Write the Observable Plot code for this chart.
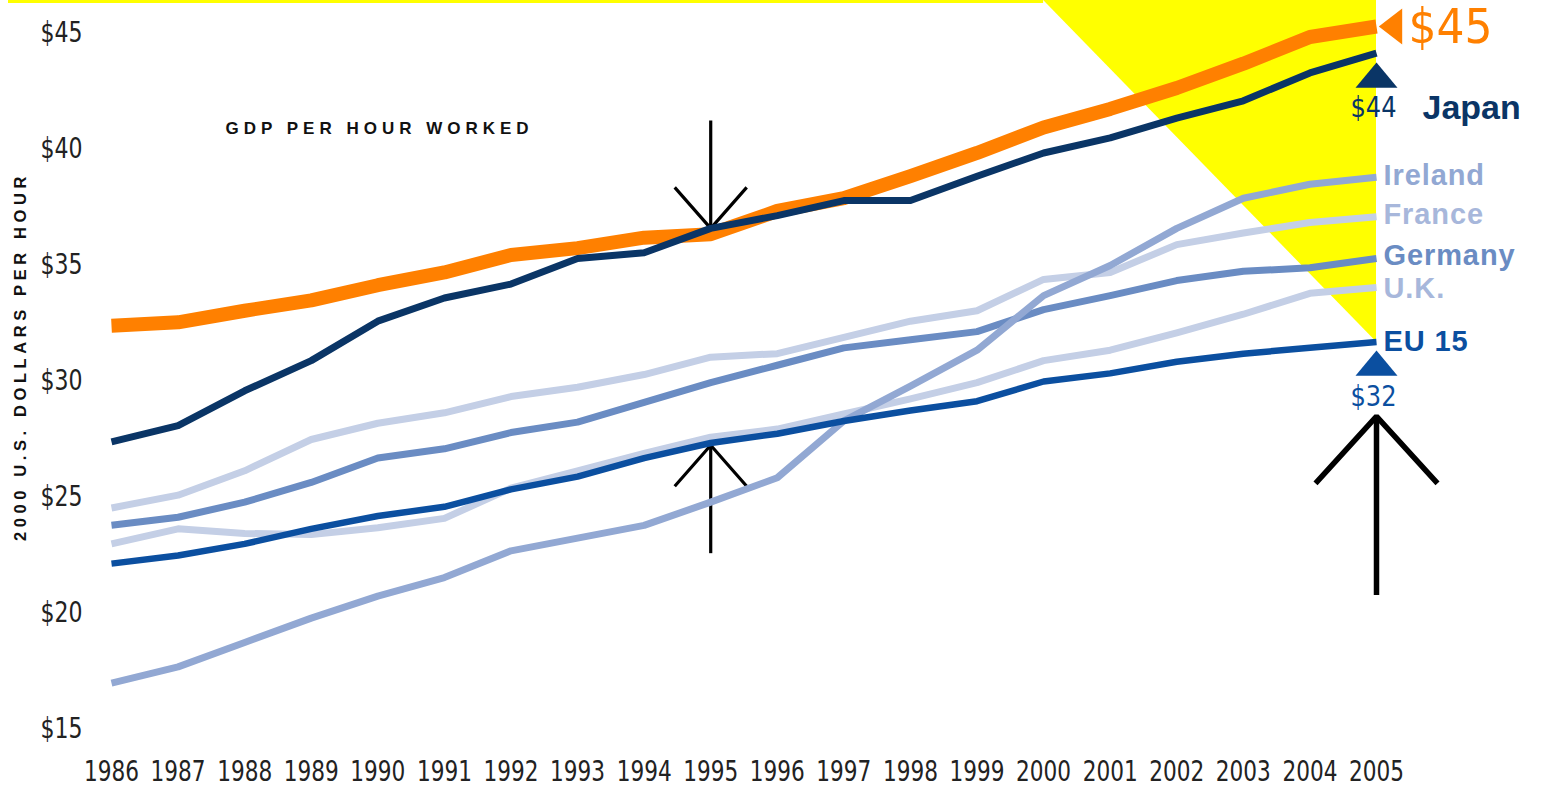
<!DOCTYPE html>
<html><head><meta charset="utf-8">
<script src="https://cdn.jsdelivr.net/npm/d3@7"></script>
<script src="https://cdn.jsdelivr.net/npm/@observablehq/plot@0.6"></script>
<style>
html,body{margin:0;padding:0;background:#fff;overflow:hidden}
#chart svg{display:block}
</style></head><body><div id="chart"></div>
<script>
// ---- data ----
const years = [1986,1987,1988,1989,1990,1991,1992,1993,1994,1995,1996,1997,1998,1999,2000,2001,2002,2003,2004,2005];
const yTicks = [15,20,25,30,35,40,45];
const us      = [32.4,32.55,33.05,33.5,34.15,34.7,35.45,35.75,36.2,36.35,37.35,37.9,38.85,39.85,40.95,41.75,42.65,43.7,44.85,45.3];
const japan   = [27.4,28.1,29.6,30.9,32.6,33.6,34.2,35.3,35.55,36.6,37.15,37.8,37.8,38.85,39.85,40.5,41.35,42.1,43.3,44.15];
const ireland = [17.0,17.7,18.75,19.8,20.75,21.55,22.7,23.25,23.8,24.8,25.85,28.3,29.8,31.35,33.7,35.0,36.6,37.9,38.5,38.8];
const france  = [24.55,25.1,26.15,27.5,28.2,28.65,29.35,29.75,30.3,31.05,31.2,31.9,32.6,33.05,34.4,34.7,35.9,36.4,36.85,37.1];
const germany = [23.8,24.15,24.8,25.65,26.7,27.1,27.8,28.25,29.1,29.95,30.7,31.45,31.8,32.15,33.1,33.7,34.35,34.75,34.9,35.3];
const uk      = [23.0,23.65,23.45,23.4,23.7,24.1,25.4,26.15,26.9,27.6,27.95,28.6,29.25,29.95,30.9,31.35,32.1,32.9,33.8,34.05];
const eu15    = [22.15,22.5,23.0,23.65,24.2,24.6,25.35,25.9,26.7,27.35,27.75,28.3,28.75,29.15,30.0,30.35,30.85,31.2,31.45,31.7];
const seriesNames = ["U.K.","France","Germany","Ireland","EU 15","U.S.","Japan"];
const seriesValues = [uk, france, germany, ireland, eu15, us, japan];
const titleText = "GDP PER HOUR WORKED";
const yLabelText = "2000 U.S. DOLLARS PER HOUR";

// ---- styles ----
const style = {
  "U.K.":    {stroke:"#c4cfe6", w:7,  label:"U.K.",    labelFill:"#a7b7db", ldy:1},
  "France":  {stroke:"#c4cfe6", w:7,  label:"France",  labelFill:"#a7b7db", ldy:-2},
  "Germany": {stroke:"#6a8cc3", w:7,  label:"Germany", labelFill:"#6a8cc3", ldy:-3},
  "Ireland": {stroke:"#92a8d3", w:7,  label:"Ireland", labelFill:"#92a8d3", ldy:-2},
  "EU 15":   {stroke:"#0b4fa0", w:6.5,label:"EU 15",   labelFill:"#0b4fa0", ldy:0},
  "U.S.":    {stroke:"#ff8000", w:14, label:null},
  "Japan":   {stroke:"#0a3566", w:7,  label:"Japan",   labelFill:"#0a3566"}
};
const W = 1548, H = 787, mL = 111, mR = 172, mT = 33, mB = 58;
const pxYear = (W - mL - mR) / (years.length - 1);
const pxDollar = (H - mT - mB) / (yTicks[yTicks.length-1] - yTicks[0]);
const narrow = "'DejaVu Sans Condensed','DejaVu Sans',sans-serif";
const bold = "'Liberation Sans',Arial,sans-serif";

const rows = seriesNames.flatMap((n, k) => years.map((y, i) => ({country:n, year:y, value:seriesValues[k][i]})));
const last = n => rows.filter(d => d.country === n).at(-1);

const yTop = yTicks[yTicks.length-1] + mT / pxDollar;  // top edge of the svg in data units
const x0 = years[0], x1 = years[years.length-1];
// yellow highlight: triangle from 2000 at the top to the EU 15 endpoint
const yellowTri = [
  {year:2000, lo:yTop, hi:yTop},
  {year:x1, lo:last("EU 15").value, hi:yTop}
];
const yellowStrip = [{x1:x0 - 103/pxYear, x2:2000, y1:yTop - 3/pxDollar, y2:yTop + 1}];

// arrows (annotations)
const arrows = [
  {year:1995, from:41.25, tip:japan[9], dir:-1, wx:36, wy:41, sw:3.2},
  {year:1995, from:22.6, tip:27.25, dir:1, wx:36, wy:41, sw:3.2},
  {year:2005, from:20.8, tip:28.5, dir:1, wx:61, wy:67, sw:5.5}
];
const arrowMarks = arrows.flatMap(a => {
  const wy = a.wy / pxDollar * a.dir, wx = a.wx / pxYear;
  const head = [
    {year:a.year - wx, v:a.tip - wy},
    {year:a.year, v:a.tip},
    {year:a.year + wx, v:a.tip - wy}
  ];
  const shaft = [{year:a.year, v:a.from}, {year:a.year, v:a.tip}];
  return [
    Plot.line(shaft, {x:"year", y:"v", stroke:"#000", strokeWidth:a.sw, strokeLinecap:"butt"}),
    Plot.line(head, {x:"year", y:"v", stroke:"#000", strokeWidth:a.sw, strokeLinecap:"butt", strokeLinejoin:"miter"})
  ];
});

// custom flat triangle symbols
const triUp = {draw(ctx, size){ const r = Math.sqrt(size/Math.PI); ctx.moveTo(0,-0.6*r); ctx.lineTo(r,0.6*r); ctx.lineTo(-r,0.6*r); ctx.closePath(); }};
const triLeft = {draw(ctx, size){ const r = Math.sqrt(size/Math.PI); ctx.moveTo(-0.65*r,0); ctx.lineTo(0.65*r,-r); ctx.lineTo(0.65*r,r); ctx.closePath(); }};

const usEnd = last("U.S."), jpEnd = last("Japan"), euEnd = last("EU 15");
const fmt = v => "$" + Math.round(v);

const lineMarks = seriesNames.map(n => Plot.line(rows.filter(d => d.country === n), {
  x:"year", y:"value", stroke:style[n].stroke, strokeWidth:style[n].w,
  strokeLinecap:"butt", strokeLinejoin:"round"
}));

const labelMarks = seriesNames.filter(n => style[n].label && n !== "Japan").map(n =>
  Plot.text([last(n)], {x:"year", y:"value", text:d => style[d.country].label, dx:7, dy:style[n].ldy,
    textAnchor:"start", fill:style[n].labelFill, fontSize:29, fontWeight:"bold", fontFamily:bold}));
// y-axis title placed left of the frame, centred on the labelled range
const yLabelPos = [{year:x0 - 91/pxYear, v:yTicks[yTicks.length-1] - 323/pxDollar, text:yLabelText}];

const chart = Plot.plot({
  width:W, height:H, marginLeft:mL, marginRight:mR, marginTop:mT, marginBottom:mB,
  x:{domain:[x0, x1], label:null},
  y:{domain:[yTicks[0], yTicks[yTicks.length-1]], label:null},
  style:{background:"#fff", overflow:"visible"},
  marks:[
    Plot.rect(yellowStrip, {x1:"x1", x2:"x2", y1:"y1", y2:"y2", fill:"#ffff00"}),
    Plot.areaY(yellowTri, {x:"year", y1:"lo", y2:"hi", fill:"#ffff00"}),
    Plot.axisY({ticks:yTicks, tickFormat:d => "$" + d, tickSize:0, tickPadding:29, fontSize:28, fontFamily:narrow, fill:"#222", label:null}),
    Plot.axisX({ticks:years, tickFormat:d => String(d), tickSize:0, tickPadding:31, fontSize:29, fontFamily:narrow, fill:"#222", label:null}),
    ...arrowMarks,
    ...lineMarks,
    // end markers
    Plot.dot([usEnd], {x:"year", y:"value", symbol:triLeft, r:18, fill:"#ff8000", dx:14, stroke:null}),
    Plot.dot([jpEnd], {x:"year", y:"value", symbol:triUp, r:21, fill:"#0a3566", dy:22, stroke:null}),
    Plot.dot([euEnd], {x:"year", y:"value", symbol:triUp, r:21, fill:"#0b4fa0", dy:21, stroke:null}),
    // value labels
    Plot.text([usEnd], {x:"year", y:"value", text:d => fmt(d.value), dx:32, dy:1, textAnchor:"start", fill:"#ff8000", fontSize:48, fontFamily:narrow}),
    Plot.text([jpEnd], {x:"year", y:"value", text:d => fmt(d.value), dx:-3, dy:55, textAnchor:"middle", fill:"#0a3566", fontSize:28, fontFamily:narrow}),
    Plot.text([euEnd], {x:"year", y:"value", text:d => fmt(d.value), dx:-3, dy:55, textAnchor:"middle", fill:"#0b4fa0", fontSize:28, fontFamily:narrow}),
    // series name labels
    ...labelMarks,
    Plot.text([jpEnd], {x:"year", y:"value", text:d => style[d.country].label, dx:46, dy:55, textAnchor:"start", fill:"#0a3566", fontSize:34, fontWeight:"bold", fontFamily:bold}),
    // title + y label
    Plot.text([titleText], {frameAnchor:"top-left", text:d => d, dx:114, dy:88, textAnchor:"start", fontSize:17, fontWeight:"bold", fontFamily:bold, fill:"#111"}),
    Plot.text(yLabelPos, {x:"year", y:"v", text:"text", rotate:-90, textAnchor:"middle", fontSize:16.5, fontWeight:"bold", fontFamily:bold, fill:"#111"})
  ]
});
document.getElementById("chart").appendChild(chart);

// condensed look for the numeric labels and letter spacing for the caps labels
const groupFontSize = t => { const g = t.closest("g[font-size]"); return g ? +g.getAttribute("font-size") : NaN; };
const targetWidth = t => {
  const s = t.textContent;
  if (/^\d{4}$/.test(s)) return 55;
  if (!/^\$\d+$/.test(s)) return null;
  if (groupFontSize(t) === 48) return 84;
  return t.closest("g[aria-label='y-axis tick label']") ? 42 : 46;
};
chart.querySelectorAll("text").forEach(t => {
  const s = t.textContent;
  if (s === titleText) t.style.letterSpacing = "5px";
  if (s === yLabelText) t.style.letterSpacing = "4.6px";
  if (s === "Ireland" || s === "France" || s === "Germany" || s === "U.K." || s === "EU 15") t.style.letterSpacing = "0.9px";
  const w = targetWidth(t);
  if (w) { t.setAttribute("textLength", w); t.setAttribute("lengthAdjust", "spacingAndGlyphs"); }
});
</script></body></html>
